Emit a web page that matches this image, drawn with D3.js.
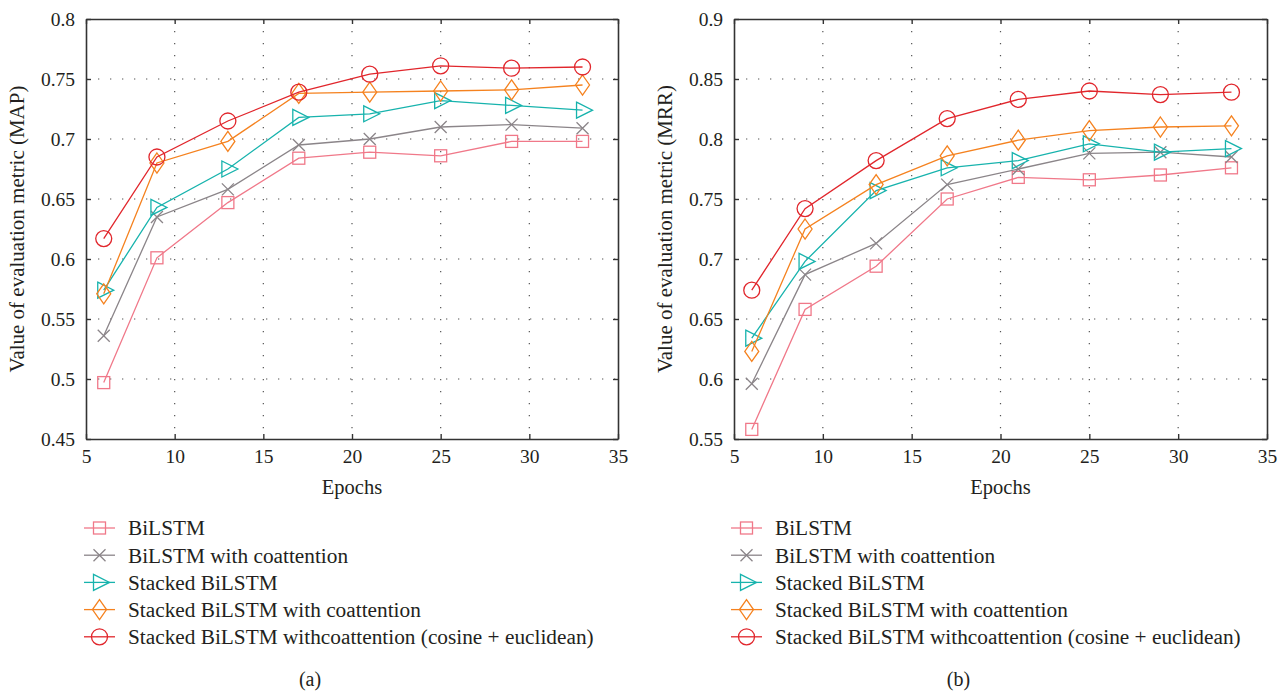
<!DOCTYPE html>
<html>
<head>
<meta charset="utf-8">
<script src="https://cdn.jsdelivr.net/npm/d3@7"></script>
<style>
  body { margin: 0; background: #fff; }
  svg { display: block; }
  text { font-family: "Liberation Serif", "DejaVu Serif", serif; fill: #231f20; }
</style>
</head>
<body>
<svg id="chart" width="1288" height="692"></svg>
<script>
// epochs on the x axis
const epochs = [6, 9, 13, 17, 21, 25, 29, 33];

const seriesNames = [
  "BiLSTM",
  "BiLSTM with coattention",
  "Stacked BiLSTM",
  "Stacked BiLSTM with coattention",
  "Stacked BiLSTM withcoattention (cosine + euclidean)"
];
const seriesColors = ["#f07889", "#8b8589", "#17b3ad", "#f5821f", "#e1262c"];
const seriesMarkers = ["square", "cross", "triangle", "diamond", "circle"];

// (a) MAP values
const mapBiLSTM      = [0.497, 0.601, 0.647, 0.684, 0.689, 0.686, 0.698, 0.698];
const mapBiLSTMCo    = [0.536, 0.635, 0.658, 0.695, 0.700, 0.710, 0.712, 0.709];
const mapStacked     = [0.574, 0.643, 0.675, 0.718, 0.721, 0.732, 0.728, 0.724];
const mapStackedCo   = [0.571, 0.680, 0.698, 0.738, 0.739, 0.740, 0.741, 0.745];
const mapStackedCoCE = [0.617, 0.685, 0.715, 0.739, 0.754, 0.761, 0.759, 0.760];

// (b) MRR values
const mrrBiLSTM      = [0.558, 0.658, 0.694, 0.750, 0.768, 0.766, 0.770, 0.776];
const mrrBiLSTMCo    = [0.596, 0.687, 0.713, 0.762, 0.775, 0.788, 0.789, 0.785];
const mrrStacked     = [0.634, 0.698, 0.757, 0.776, 0.782, 0.796, 0.789, 0.792];
const mrrStackedCo   = [0.623, 0.725, 0.762, 0.786, 0.799, 0.807, 0.810, 0.811];
const mrrStackedCoCE = [0.674, 0.742, 0.782, 0.817, 0.833, 0.840, 0.837, 0.839];

const xTicks = [5, 10, 15, 20, 25, 30, 35];
const mapTicks = [0.45, 0.5, 0.55, 0.6, 0.65, 0.7, 0.75, 0.8];
const mrrTicks = [0.55, 0.6, 0.65, 0.7, 0.75, 0.8, 0.85, 0.9];

const svg = d3.select("#chart");

function drawMarker(g, type, x, y, color) {
  let m;
  if (type === "square") {
    m = g.append("rect").attr("x", x - 6).attr("y", y - 6).attr("width", 12).attr("height", 12);
  } else if (type === "circle") {
    m = g.append("circle").attr("cx", x).attr("cy", y).attr("r", 8);
  } else if (type === "triangle") {
    m = g.append("path").attr("d", `M${x - 6},${y - 8}L${x + 10},${y}L${x - 6},${y + 8}Z`);
  } else if (type === "diamond") {
    m = g.append("path").attr("d", `M${x},${y - 10}L${x + 7},${y}L${x},${y + 10}L${x - 7},${y}Z`);
  } else {
    m = g.append("path").attr("d", `M${x - 6},${y - 6}L${x + 6},${y + 6}M${x - 6},${y + 6}L${x + 6},${y - 6}`);
  }
  m.attr("fill", "none").attr("stroke", color).attr("stroke-width", 1.3);
}

function drawPanel(opts) {
  const { left, right, top, bottom, yDomain, yTicks, data, yLabel, tag, legendX } = opts;
  const x = d3.scaleLinear().domain([5, 35]).range([left, right]);
  const y = d3.scaleLinear().domain(yDomain).range([bottom, top]);
  const g = svg.append("g");

  // dotted grid
  g.selectAll(".vg").data(xTicks.slice(1, -1)).enter().append("line")
    .attr("x1", d => x(d)).attr("x2", d => x(d))
    .attr("y1", top).attr("y2", bottom)
    .attr("stroke", "#555").attr("stroke-width", 1.2)
    .attr("stroke-dasharray", "1.3,10.7");
  g.selectAll(".hg").data(yTicks.slice(1, -1)).enter().append("line")
    .attr("x1", left).attr("x2", right)
    .attr("y1", d => y(d)).attr("y2", d => y(d))
    .attr("stroke", "#555").attr("stroke-width", 1.2)
    .attr("stroke-dasharray", "1.3,10.7");

  // axes (bottom/left with labels, top/right mirrored ticks)
  const axStyle = sel => {
    sel.select(".domain").attr("stroke", "#333").attr("stroke-width", 1.6);
    sel.selectAll(".tick line").attr("stroke", "#333").attr("stroke-width", 1.4);
    sel.selectAll(".tick text").style("font-size", "19.5px")
      .style("font-family", "Liberation Serif").attr("fill", "#231f20");
  };
  g.append("g").attr("transform", `translate(0,${bottom})`)
    .call(d3.axisBottom(x).tickValues(xTicks).tickSizeInner(-5).tickSizeOuter(0).tickPadding(10))
    .call(axStyle);
  g.append("g").attr("transform", `translate(0,${top})`)
    .call(d3.axisTop(x).tickValues(xTicks).tickSizeInner(-5).tickSizeOuter(0).tickFormat(""))
    .call(axStyle);
  g.append("g").attr("transform", `translate(${left},0)`)
    .call(d3.axisLeft(y).tickValues(yTicks).tickSizeInner(-5).tickSizeOuter(0).tickPadding(11).tickFormat(d3.format("")))
    .call(axStyle);
  g.append("g").attr("transform", `translate(${right},0)`)
    .call(d3.axisRight(y).tickValues(yTicks).tickSizeInner(-5).tickSizeOuter(0).tickFormat(""))
    .call(axStyle);

  // series lines + markers
  const line = d3.line().x((d, i) => x(epochs[i])).y(d => y(d));
  data.forEach((vals, si) => {
    g.append("path").datum(vals).attr("d", line)
      .attr("fill", "none").attr("stroke", seriesColors[si]).attr("stroke-width", 1.3);
    vals.forEach((v, i) => drawMarker(g, seriesMarkers[si], x(epochs[i]), y(v), seriesColors[si]));
  });

  // axis titles
  g.append("text").attr("x", (left + right) / 2).attr("y", bottom + 55)
    .attr("text-anchor", "middle").style("font-size", "20.5px").text("Epochs");
  g.append("text")
    .attr("transform", `translate(${left - 62},${(top + bottom) / 2}) rotate(-90)`)
    .attr("text-anchor", "middle").style("font-size", "21px").text(yLabel);

  // legend
  seriesNames.forEach((name, si) => {
    const ly = 528 + si * 27.2;
    g.append("line").attr("x1", legendX).attr("x2", legendX + 31)
      .attr("y1", ly).attr("y2", ly).attr("stroke", seriesColors[si]).attr("stroke-width", 1.3);
    drawMarker(g, seriesMarkers[si], legendX + 15.5, ly, seriesColors[si]);
    g.append("text").attr("x", legendX + 44).attr("y", ly).attr("dy", "0.35em")
      .style("font-size", "21.3px").text(name);
  });

  g.append("text").attr("x", (left + right) / 2 - 42).attr("y", 686)
    .attr("text-anchor", "middle").style("font-size", "20px").text(tag);
}

drawPanel({
  left: 86, right: 618, top: 19, bottom: 439,
  yDomain: [0.45, 0.8], yTicks: mapTicks,
  data: [mapBiLSTM, mapBiLSTMCo, mapStacked, mapStackedCo, mapStackedCoCE],
  yLabel: "Value of evaluation metric (MAP)", tag: "(a)", legendX: 84
});
drawPanel({
  left: 734, right: 1267, top: 19, bottom: 439,
  yDomain: [0.55, 0.9], yTicks: mrrTicks,
  data: [mrrBiLSTM, mrrBiLSTMCo, mrrStacked, mrrStackedCo, mrrStackedCoCE],
  yLabel: "Value of evaluation metric (MRR)", tag: "(b)", legendX: 731
});
</script>
</body>
</html>
